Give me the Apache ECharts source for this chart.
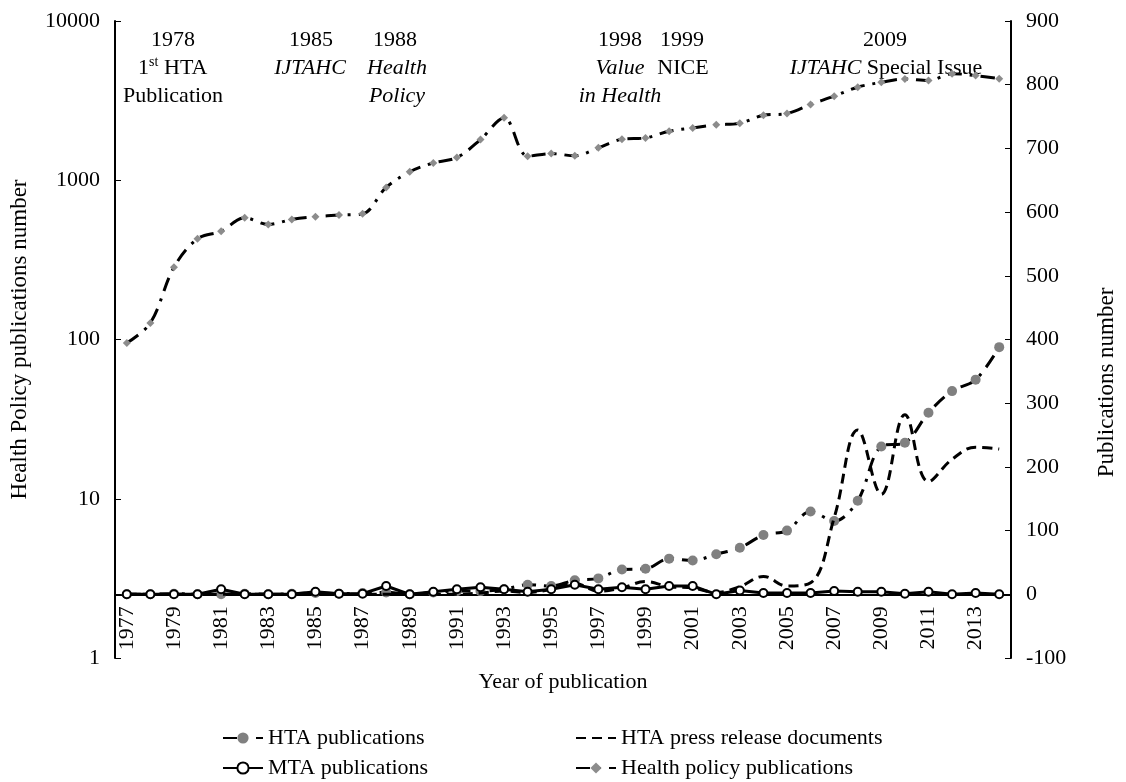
<!DOCTYPE html>
<html>
<head>
<meta charset="utf-8">
<script src="https://cdn.jsdelivr.net/npm/echarts@6/dist/echarts.min.js"></script>
<style>
  html, body { margin: 0; padding: 0; background: #fff; }
  #chart { width: 1126px; height: 782px; }
</style>
</head>
<body>
<div id="chart"></div>
<script>
// 年份
const years = ['1977', '1978', '1979', '1980', '1981', '1982', '1983', '1984', '1985', '1986',
  '1987', '1988', '1989', '1990', '1991', '1992', '1993', '1994', '1995', '1996',
  '1997', '1998', '1999', '2000', '2001', '2002', '2003', '2004', '2005', '2006',
  '2007', '2008', '2009', '2010', '2011', '2012', '2013', '2014'];

// left axis (log)
const healthPolicyPubs = [95, 127, 284, 429, 479, 581, 528, 567, 590, 604,
  615, 901, 1130, 1285, 1390, 1800, 2465, 1417, 1470, 1425,
  1597, 1810, 1845, 2030, 2130, 2228, 2282, 2558, 2623, 2994,
  3373, 3840, 4121, 4324, 4226, 4670, 4540, 4345];

// right axis
const htaPubs = [0, 0, 1, 0, 0, 1, 0, 1, 2, 1,
  2, 3, 0, 3, 5, 5, 8, 15, 13, 22,
  25, 39, 40, 56, 53, 63, 73, 93, 100, 130,
  115, 147, 232, 238, 285, 319, 337, 388];

const htaPress = [0, 0, 0, 0, 0, 0, 0, 0, 0, 0,
  0, 0, 0, 0, 0, 2, 5, 3, 8, 17,
  5, 10, 20, 12, 10, 3, 12, 28, 13, 18,
  120, 258, 157, 282, 177, 212, 231, 228];

const mtaPubs = [0, 0, 0, 0, 8, 0, 0, 0, 4, 1,
  1, 13, 0, 4, 8, 11, 8, 4, 8, 15,
  8, 11, 8, 13, 13, 0, 6, 2, 2, 2,
  5, 4, 4, 1, 4, 0, 2, 0];

const leftTicks = [1, 10, 100, 1000, 10000];

const FONT = '"Liberation Serif", "Times New Roman", serif';

const myChart = echarts.init(document.getElementById('chart'));

const txt = (x, y, s, extra) => ({
  type: 'text', x: x, y: y, silent: true,
  style: Object.assign({
    text: s, fill: '#000', fontSize: 22, fontFamily: FONT,
    align: 'center', verticalAlign: 'middle'
  }, extra || {})
});

const legendText = { fontSize: 22, fontFamily: FONT, color: '#000' };

const option = {
  backgroundColor: '#fff',
  animation: false,
  grid: { left: 115, right: 111, top: 21, bottom: 124, containLabel: false },
  legend: [
    {
      data: ['HTA publications', 'MTA publications'],
      orient: 'vertical', left: 222, bottom: 3, padding: 0,
      itemWidth: 40, itemHeight: 14, itemGap: 8,
      textStyle: legendText
    },
    {
      data: ['HTA press release documents', 'Health policy publications'],
      orient: 'vertical', left: 575, bottom: 3, padding: 0,
      itemWidth: 40, itemHeight: 14, itemGap: 8,
      textStyle: legendText
    }
  ],
  xAxis: {
    type: 'category',
    data: years,
    boundaryGap: true,
    position: 'bottom',
    offset: -63.7,   // sits on 0 of the right axis
    name: 'Year of publication',
    nameLocation: 'middle',
    nameGap: 77,
    nameMoveOverlap: false,
    nameTextStyle: { fontSize: 22, fontFamily: FONT, color: '#000' },
    axisLine: { onZero: false, lineStyle: { color: '#000', width: 2 } },
    axisTick: { inside: true, length: 5, lineStyle: { color: '#000' } },
    axisLabel: { interval: 1, rotate: 90, margin: 12, fontSize: 22, fontFamily: FONT, color: '#000' },
    splitLine: { show: false }
  },
  yAxis: [
    {
      type: 'log',
      logBase: 10,
      min: leftTicks[0],
      max: leftTicks[leftTicks.length - 1],
      position: 'left',
      name: 'Health Policy publications number',
      nameLocation: 'middle',
      nameGap: 84,
      nameRotate: 90,
      nameTextStyle: { fontSize: 23, fontFamily: FONT, color: '#000' },
      axisLine: { show: true, lineStyle: { color: '#000', width: 2 } },
      axisTick: { show: true, inside: true, length: 6, lineStyle: { color: '#000' } },
      axisLabel: { margin: 15, fontSize: 22, fontFamily: FONT, color: '#000', formatter: v => String(v) },
      splitLine: { show: false }
    },
    {
      type: 'value',
      min: -100,
      max: 900,
      interval: 100,
      position: 'right',
      name: 'Publications number',
      nameLocation: 'middle',
      nameGap: 84,
      nameRotate: 90,
      nameTextStyle: { fontSize: 23, fontFamily: FONT, color: '#000', padding: [0, 86, 0, 0] },
      axisLine: { show: true, lineStyle: { color: '#000', width: 2 } },
      axisTick: { show: true, inside: true, length: 6, lineStyle: { color: '#000' } },
      axisLabel: { margin: 15, fontSize: 22, fontFamily: FONT, color: '#000', formatter: v => String(v) },
      splitLine: { show: false }
    }
  ],
  series: [
    {
      name: 'HTA publications',
      type: 'line',
      yAxisIndex: 1,
      data: htaPubs,
      smooth: 0.35,
      symbol: 'circle',
      symbolSize: 10,
      itemStyle: { color: '#808080' },
      lineStyle: { color: '#000', width: 3, type: [14, 8, 3, 8] },
      z: 2
    },
    {
      name: 'HTA press release documents',
      type: 'line',
      yAxisIndex: 1,
      data: htaPress,
      smooth: 0.4,
      symbol: 'none',
      itemStyle: { color: 'rgba(0,0,0,0)' },
      lineStyle: { color: '#000', width: 3, type: [10, 6] },
      z: 3
    },
    {
      name: 'MTA publications',
      type: 'line',
      yAxisIndex: 1,
      data: mtaPubs,
      symbol: 'circle',
      symbolSize: 8,
      itemStyle: { color: '#fff', borderColor: '#000', borderWidth: 2 },
      lineStyle: { color: '#000', width: 3 },
      z: 4
    },
    {
      name: 'Health policy publications',
      type: 'line',
      yAxisIndex: 0,
      data: healthPolicyPubs,
      smooth: 0.35,
      symbol: 'diamond',
      symbolSize: 8,
      itemStyle: { color: '#8c8c8c' },
      lineStyle: { color: '#000', width: 3, type: [14, 8, 3, 8] },
      z: 5
    }
  ],
  graphic: [
    txt(173, 40, '1978'),
    txt(149, 68, '1', { align: 'right' }),
    txt(149, 62, 'st', { align: 'left', fontSize: 14 }),
    txt(164, 68, 'HTA', { align: 'left' }),
    txt(173, 96, 'Publication'),
    txt(311, 40, '1985'),
    txt(310, 68, 'IJTAHC', { fontStyle: 'italic' }),
    txt(395, 40, '1988'),
    txt(397, 68, 'Health', { fontStyle: 'italic' }),
    txt(397, 96, 'Policy', { fontStyle: 'italic' }),
    txt(620, 40, '1998'),
    txt(620, 68, 'Value', { fontStyle: 'italic' }),
    txt(620, 96, 'in Health', { fontStyle: 'italic' }),
    txt(682, 40, '1999'),
    txt(683, 68, 'NICE'),
    txt(885, 40, '2009'),
    txt(886, 68, '{i|IJTAHC} Special Issue', {
      rich: { i: { fontStyle: 'italic', fontSize: 22, fontFamily: FONT, fill: '#000' } }
    })
  ]
};

myChart.setOption(option);
</script>
</body>
</html>
